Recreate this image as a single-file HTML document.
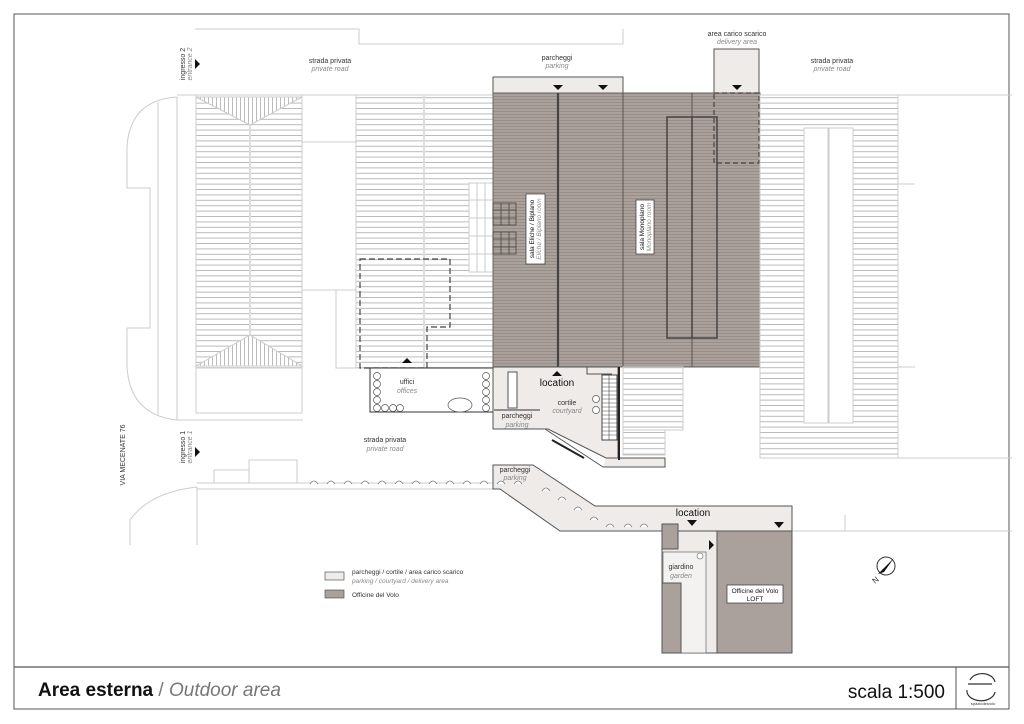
<!DOCTYPE html>
<html><head><meta charset="utf-8"><style>
html,body{margin:0;padding:0;background:#fff;}
svg{display:block;font-family:"Liberation Sans",sans-serif;}
.t{font-size:7px;fill:#333;text-anchor:middle;}
.i{font-size:7px;fill:#888;font-style:italic;text-anchor:middle;}
</style></head><body>
<svg width="1024" height="724" viewBox="0 0 1024 724" xmlns="http://www.w3.org/2000/svg">
<defs>
<pattern id="ws" width="10" height="5.4" patternUnits="userSpaceOnUse"><rect width="10" height="5.4" fill="#fff"/><line x1="0" y1="0.5" x2="10" y2="0.5" stroke="#aaa" stroke-width="0.8"/></pattern>
<pattern id="gs" width="10" height="3" patternUnits="userSpaceOnUse"><rect width="10" height="3" fill="#aba19c"/><line x1="0" y1="0.5" x2="10" y2="0.5" stroke="#938984" stroke-width="0.8"/></pattern>
<pattern id="vs" width="4" height="10" patternUnits="userSpaceOnUse"><rect width="4" height="10" fill="#fff"/><line x1="0.5" y1="0" x2="0.5" y2="10" stroke="#aaa" stroke-width="0.8"/></pattern>
</defs>
<rect width="1024" height="724" fill="#fff"/>
<!-- frame -->
<rect x="14" y="14" width="995" height="695" fill="none" stroke="#555" stroke-width="1"/>
<line x1="14" y1="667" x2="1009" y2="667" stroke="#555" stroke-width="1.2"/>
<line x1="956" y1="667" x2="956" y2="709" stroke="#555"/>
<text x="38" y="696" font-size="19" font-weight="bold" fill="#111">Area esterna <tspan font-weight="normal" fill="#777">/ </tspan><tspan font-weight="normal" font-style="italic" fill="#777">Outdoor area</tspan></text>
<text x="945" y="698" font-size="19" fill="#111" text-anchor="end">scala 1:500</text>
<g fill="none" stroke="#333" stroke-width="1.2"><path d="M970 680 a13 10 0 0 1 25 2"/><path d="M967 690 a13 9 0 0 0 28 2"/><path d="M968 684 h24"/></g>
<text x="983" y="705" font-size="4" text-anchor="middle" fill="#333">spaziodelvolo</text>

<!-- top outline -->
<path d="M195 29 H359 V44 H623 V29" fill="none" stroke="#ccc"/>
<!-- left curved outline -->
<g fill="none" stroke="#ccc" stroke-width="1">
<path d="M177 97 Q130 100 127 147 V188 H150 V328 H127 V367 Q130 415 177 420 H303"/>
<line x1="158" y1="102" x2="158" y2="415"/>
<line x1="177" y1="97" x2="177" y2="420"/>
<line x1="177" y1="95" x2="760" y2="95"/>
<line x1="760" y1="95" x2="1012" y2="95"/>
</g>
<!-- left hip roof -->
<rect x="196" y="95" width="106" height="273" fill="url(#ws)" stroke="#ccc"/>
<path d="M196 97 L250 125 L302 97 Z" fill="url(#vs)" stroke="#ccc"/>
<path d="M196 366 L250 335 L302 366 Z" fill="url(#vs)" stroke="#ccc"/>
<line x1="250" y1="125" x2="250" y2="335" stroke="#ddd" stroke-width="2"/>
<rect x="196" y="368" width="106" height="45" fill="#fff" stroke="#ccc"/>
<!-- gap -->
<path d="M302 142 H356 M302 290 H356" stroke="#ccc"/>
<rect x="336" y="290" width="20" height="78" fill="#fff" stroke="#ccc"/>
<!-- middle striped -->
<rect x="356" y="95" width="137" height="273" fill="url(#ws)" stroke="#ccc"/>
<line x1="424" y1="95" x2="424" y2="368" stroke="#ddd" stroke-width="2"/>
<g stroke="#ccc" fill="#fff"><rect x="469" y="183" width="24" height="89"/><path d="M477 183 V272 M485 183 V272 M469 200 H493 M469 218 H493 M469 236 H493 M469 254 H493" fill="none"/></g>
<path d="M360 259 H450 V327 H427 V368 H360 Z" fill="none" stroke="#444" stroke-width="1.2" stroke-dasharray="6 3"/>
<!-- uffici courtyard -->
<rect x="370" y="368" width="123" height="44" fill="#fff" stroke="#333" stroke-width="1"/>
<g fill="#fff" stroke="#555" stroke-width="0.7">
<circle cx="377" cy="376" r="3.5"/><circle cx="377" cy="384" r="3.5"/><circle cx="377" cy="392" r="3.5"/><circle cx="377" cy="400" r="3.5"/><circle cx="377" cy="408" r="3.5"/>
<circle cx="385" cy="408" r="3.5"/><circle cx="393" cy="408" r="3.5"/><circle cx="400" cy="408" r="3.5"/>
<circle cx="486" cy="376" r="3.5"/><circle cx="486" cy="384" r="3.5"/><circle cx="486" cy="392" r="3.5"/><circle cx="486" cy="400" r="3.5"/><circle cx="486" cy="408" r="3.5"/>
<ellipse cx="460" cy="405" rx="12" ry="7"/>
</g>
<path d="M402 363 L407 358 L412 363 Z" fill="#111"/>
<text x="407" y="384" class="t">uffici</text><text x="407" y="393" class="i">offices</text>

<!-- gray buildings -->
<rect x="493" y="77" width="130" height="16" fill="#eeebe9" stroke="#555"/>
<rect x="714" y="49" width="45" height="44" fill="#eeebe9" stroke="#555"/>
<rect x="493" y="93" width="267" height="274" fill="url(#gs)" stroke="#666"/>
<line x1="558" y1="93" x2="558" y2="367" stroke="#444" stroke-width="2.2"/>
<line x1="623" y1="77" x2="623" y2="367" stroke="#555"/>
<line x1="692" y1="93" x2="692" y2="367" stroke="#555"/>
<path d="M553 85 H563 L558 90 Z M598 85 H608 L603 90 Z M732 85 H742 L737 90 Z" fill="#111"/>
<rect x="714" y="93" width="45" height="70" fill="none" stroke="#444" stroke-width="1.2" stroke-dasharray="5 3"/>
<rect x="667" y="117" width="50" height="221" fill="none" stroke="#444" stroke-width="1.5"/>
<line x1="692" y1="117" x2="692" y2="338" stroke="#444" stroke-width="1.5"/>
<g fill="none" stroke="#444" stroke-width="0.8"><rect x="493" y="203" width="23" height="22"/><rect x="493" y="232" width="23" height="22"/><path d="M501 203V225M509 203V225M493 210H516M493 218H516M501 232V254M509 232V254M493 239H516M493 247H516"/></g>
<rect x="526" y="194" width="19" height="70" fill="#fff" stroke="#333" stroke-width="0.7"/>
<text transform="translate(534 229) rotate(-90)" font-size="6.5" fill="#111" text-anchor="middle">sala Eliche / Biplano</text>
<text transform="translate(541 229) rotate(-90)" font-size="6.5" fill="#888" font-style="italic" text-anchor="middle">Eliche / Biplano room</text>
<rect x="636" y="200" width="18" height="54" fill="#fff" stroke="#333" stroke-width="0.7"/>
<text transform="translate(644 227) rotate(-90)" font-size="6.5" fill="#111" text-anchor="middle">sala Monoplano</text>
<text transform="translate(651 227) rotate(-90)" font-size="6.5" fill="#888" font-style="italic" text-anchor="middle">Monoplano room</text>

<!-- right striped -->
<rect x="760" y="95" width="138" height="363" fill="url(#ws)" stroke="#ccc"/>
<g fill="#fff" stroke="#ccc"><rect x="804" y="128" width="24" height="295"/><rect x="829" y="128" width="24" height="295"/></g>
<path d="M898 95 V458 M898 184 H915 M898 367 H915 M898 458 H1012" stroke="#ccc" fill="none"/>
<rect x="623" y="367" width="60" height="63" fill="url(#ws)" stroke="#ccc"/>
<rect x="623" y="430" width="42" height="25" fill="url(#ws)" stroke="#ccc"/>

<!-- courtyard -->
<path d="M603 467 L545 429 M606 458 H665 V467 H603" fill="#eeebe9" stroke="#555"/>
<path d="M493 367 H618 V458 H606 L548 429 H493 Z" fill="#eeebe9" stroke="#555"/>
<line x1="619" y1="367" x2="619" y2="460" stroke="#222" stroke-width="2"/>
<path d="M587 367 V374 H612" fill="none" stroke="#555"/>
<rect x="602" y="375" width="15" height="65" fill="#fff" stroke="#444"/>
<path d="M602 379H617M602 383H617M602 387H617M602 391H617M602 395H617M602 399H617M602 403H617M602 407H617M602 411H617M602 415H617M602 419H617M602 423H617M602 427H617M602 431H617M602 435H617M609 375V440" stroke="#444" stroke-width="0.6"/>
<rect x="508" y="372" width="9" height="36" fill="#fff" stroke="#555"/>
<path d="M494 410 H540" stroke="#333"/>
<path d="M552 440 L584 458" stroke="#222" stroke-width="2"/>
<circle cx="596" cy="399" r="3.5" fill="#fff" stroke="#555" stroke-width="0.7"/><circle cx="596" cy="410" r="3.5" fill="#fff" stroke="#555" stroke-width="0.7"/>
<path d="M552 376 L557 371 L562 376 Z" fill="#111"/>
<text x="557" y="386" font-size="10" fill="#111" text-anchor="middle">location</text>
<text x="567" y="405" class="t">cortile</text><text x="567" y="413" class="i">courtyard</text>
<text x="517" y="418" class="t">parcheggi</text><text x="517" y="427" class="i">parking</text>

<!-- labels top -->
<text transform="translate(185 64) rotate(-90)" font-size="7" fill="#333" text-anchor="middle">ingresso 2</text>
<text transform="translate(192 64) rotate(-90)" font-size="7" fill="#888" font-style="italic" text-anchor="middle">entrance 2</text>
<path d="M195 59 L200 64 L195 69 Z" fill="#111"/>
<text x="330" y="63" class="t">strada privata</text><text x="330" y="71" class="i">private road</text>
<text x="557" y="60" class="t">parcheggi</text><text x="557" y="68" class="i">parking</text>
<text x="737" y="36" class="t">area carico scarico</text><text x="737" y="44" class="i">delivery area</text>
<text x="832" y="63" class="t">strada privata</text><text x="832" y="71" class="i">private road</text>

<!-- lower left -->
<text transform="translate(185 447) rotate(-90)" font-size="7" fill="#333" text-anchor="middle">ingresso 1</text>
<text transform="translate(192 447) rotate(-90)" font-size="7" fill="#888" font-style="italic" text-anchor="middle">entrance 1</text>
<path d="M195 447 L200 452 L195 457 Z" fill="#111"/>
<text transform="translate(125 455) rotate(-90)" font-size="7" fill="#333" text-anchor="middle">VIA MECENATE 76</text>
<text x="385" y="442" class="t">strada privata</text><text x="385" y="451" class="i">private road</text>
<g fill="none" stroke="#ccc"><rect x="249" y="460" width="48" height="23"/><rect x="214" y="470" width="35" height="13"/>
<path d="M197 487 Q150 492 130 520 V545"/><path d="M197 487 V545"/>
<path d="M197 483 H493"/><path d="M197 489 H500 L560 531 H715"/><path d="M792 531 H1012"/><path d="M762 515 V531 M845 515 V531"/></g>

<!-- parking strip -->
<path d="M493 465 H533 L595 506 H792 V531 H560 L500 489 H493 Z" fill="#eeebe9" stroke="#555"/>
<text x="515" y="472" class="t">parcheggi</text><text x="515" y="480" class="i">parking</text>
<g fill="#fff" stroke="#777" stroke-width="0.7">
<path d="M310 484 q4 -6 8 0 M327 484 q4 -6 8 0 M344 484 q4 -6 8 0 M361 484 q4 -6 8 0 M378 484 q4 -6 8 0 M395 484 q4 -6 8 0 M412 484 q4 -6 8 0 M429 484 q4 -6 8 0 M446 484 q4 -6 8 0 M463 484 q4 -6 8 0 M480 484 q4 -6 8 0 M497 484 q4 -6 8 0 M514 484 q4 -6 8 0 M542 491 q4 -6 8 0 M558 500 q4 -6 8 0 M574 510 q4 -6 8 0 M590 520 q4 -6 8 0 M606 527 q4 -6 8 0 M624 527 q4 -6 8 0 M640 527 q4 -6 8 0"/>
</g>
<text x="693" y="516" font-size="10" fill="#111" text-anchor="middle">location</text>
<path d="M687 520 H697 L692 526 Z M774 522 H784 L779 528 Z" fill="#111"/>

<!-- loft -->
<rect x="662" y="531" width="55" height="122" fill="#eeebe9" stroke="#555"/>
<rect x="717" y="531" width="75" height="122" fill="#aba19c" stroke="#555"/>
<rect x="663" y="552" width="43" height="101" fill="#f4f2f1" stroke="#666" stroke-width="0.7"/>
<rect x="662" y="524" width="16" height="25" fill="#aba19c" stroke="#555"/>
<rect x="662" y="583" width="19" height="70" fill="#aba19c" stroke="#555"/>
<path d="M709 540 L714 545 L709 550 Z" fill="#111"/>
<circle cx="700" cy="556" r="3" fill="#fff" stroke="#666" stroke-width="0.6"/>
<text x="681" y="569" class="t">giardino</text><text x="681" y="578" class="i">garden</text>
<rect x="727" y="585" width="56" height="18" fill="#fff" stroke="#333" stroke-width="0.7"/>
<text x="755" y="593" font-size="6.5" fill="#111" text-anchor="middle">Officine del Volo</text>
<text x="755" y="601" font-size="6.5" fill="#111" text-anchor="middle">LOFT</text>

<!-- legend -->
<rect x="325" y="572" width="19" height="8" fill="#eeebe9" stroke="#555" stroke-width="0.7"/>
<text x="352" y="574" font-size="6.5" fill="#333">parcheggi / cortile / area carico scarico</text>
<text x="352" y="583" font-size="6.5" fill="#888" font-style="italic">parking / courtyard / delivery area</text>
<rect x="325" y="590" width="19" height="8" fill="#aba19c" stroke="#555" stroke-width="0.7"/>
<text x="352" y="597" font-size="6.5" fill="#333">Officine del Volo</text>
<!-- north -->
<circle cx="886" cy="566" r="9" fill="#fff" stroke="#333"/>
<path d="M878 574 L894 558 L884 572 Z" fill="#111"/>
<text x="875" y="584" font-size="8" fill="#333" transform="rotate(-40 875 584)">N</text>
</svg>
</body></html>
